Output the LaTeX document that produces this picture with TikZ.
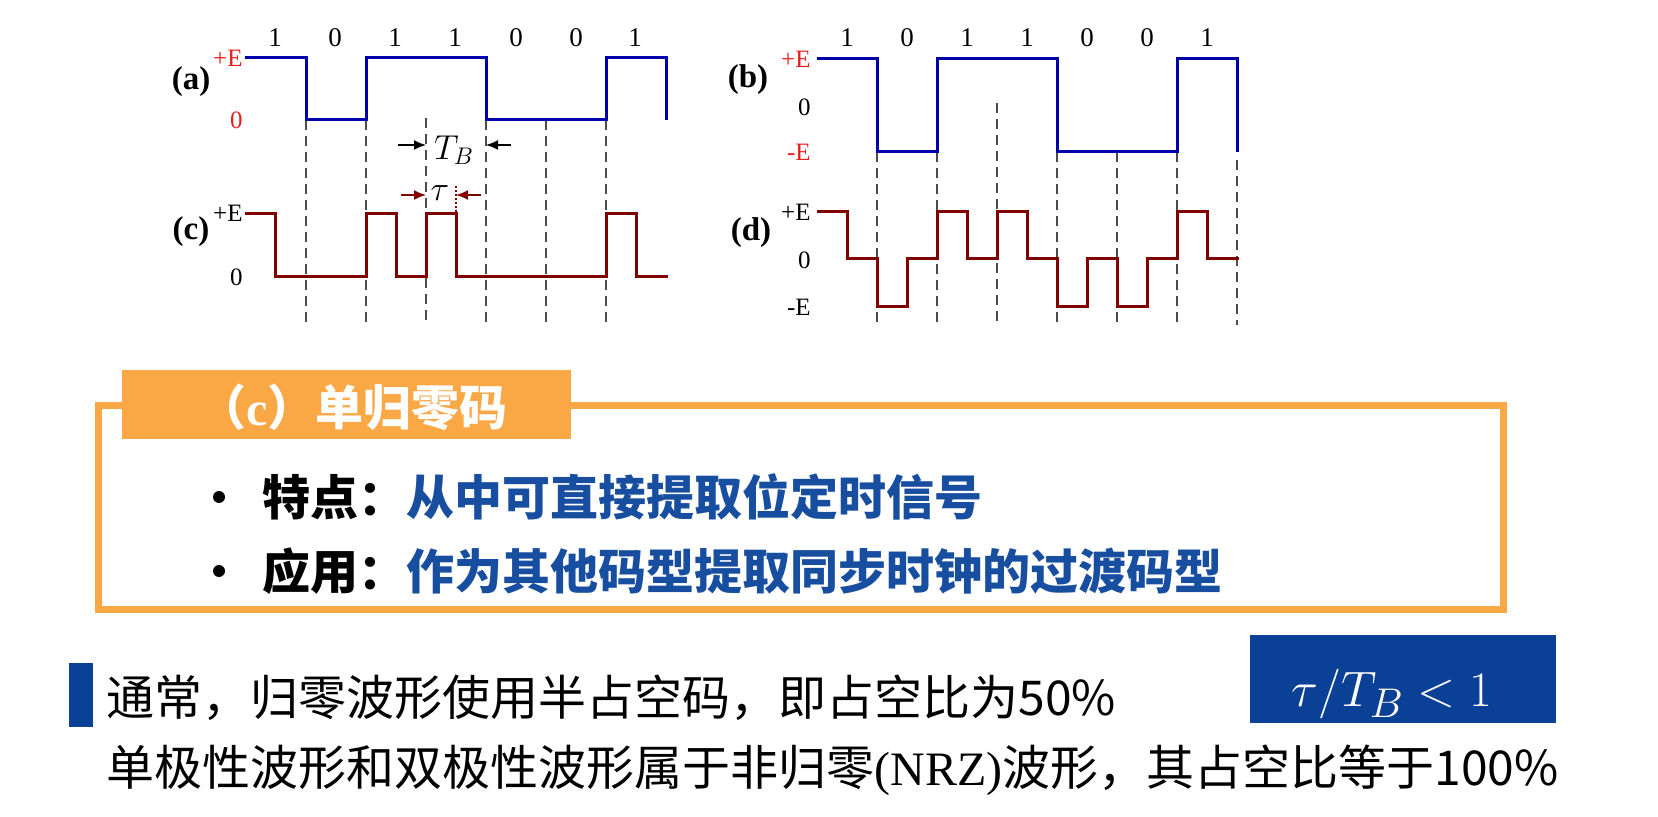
\documentclass[tikz,border=0pt]{standalone}
\usepackage{fontspec}
\setmainfont{Liberation Serif}
\newfontfamily\cjk{Noto Sans CJK SC}
\usepackage{xcolor}
\usetikzlibrary{arrows.meta, positioning}

\definecolor{waveblue}{RGB}{0,0,170}
\definecolor{wavered}{RGB}{128,0,0}
\definecolor{lblred}{RGB}{232,30,30}
\definecolor{taborange}{RGB}{250,168,70}
\definecolor{txtblue}{RGB}{24,78,160}
\definecolor{boxblue}{RGB}{10,64,150}

\begin{document}
\begin{tikzpicture}[
    x=0.5pt, y=-0.5pt,
    >={Latex[length=6pt, width=5pt]},
    wave/.style={line width=1.5pt, line join=miter},
    guide/.style={dash pattern=on 5pt off 3pt, line width=0.7pt, draw=black!70},
    bit/.style={inner sep=0pt, font=\fontsize{13.5}{13.5}\selectfont},
    lvl/.style={inner sep=0pt, anchor=east, font=\fontsize{12.5}{12.5}\selectfont},
    tag/.style={inner sep=0pt, font=\fontsize{16.5}{16.5}\selectfont\bfseries},
    arrow/.style={->, line width=0.8pt},
    dot/.style={circle, fill=black, inner sep=0pt, minimum size=6pt},
    line/.style={inner sep=0pt, anchor=west, font=\cjk\fontsize{24}{24}\selectfont},
    point/.style={inner sep=0pt, anchor=west, font=\cjk\bfseries\fontsize{24}{24}\selectfont}
]
\useasboundingbox (0,0) rectangle (1658,817);

% Bit labels
\node[bit] (a1) at (275,38) {1};
\node[bit] (a2) at (335,38) {0};
\node[bit] (a3) at (395,38) {1};
\node[bit] (a4) at (455,38) {1};
\node[bit] (a5) at (516,38) {0};
\node[bit] (a6) at (576,38) {0};
\node[bit] (a7) at (635,38) {1};
\node[bit] (b1) at (847,38) {1};
\node[bit] (b2) at (907,38) {0};
\node[bit] (b3) at (967,38) {1};
\node[bit] (b4) at (1027,38) {1};
\node[bit] (b5) at (1087,38) {0};
\node[bit] (b6) at (1147,38) {0};
\node[bit] (b7) at (1207,38) {1};

% Level labels
\node[lvl, text=lblred] (aP) at (243,58) {+E};
\node[lvl, text=lblred] (aZ) at (243,120) {0};
\node[lvl] (cP) at (243,213) {+E};
\node[lvl] (cZ) at (243,277) {0};
\node[lvl, text=lblred] (bP) at (811,59) {+E};
\node[lvl] (bZ) at (811,107) {0};
\node[lvl, text=lblred] (bN) at (811,152) {-E};
\node[lvl] (dP) at (811,212) {+E};
\node[lvl] (dZ) at (811,260) {0};
\node[lvl] (dN) at (811,307) {-E};
\node[tag] (ta) at (191,82) {(a)};
\node[tag] (tc) at (191,232) {(c)};
\node[tag] (tb) at (748,80) {(b)};
\node[tag] (td) at (751,233) {(d)};

% Bit boundaries
\draw[guide] (306,120) -- (306,325) (366,120) -- (366,325) (426,118) -- (426,325)
    (486,120) -- (486,325) (546,120) -- (546,325) (606,120) -- (606,325);
\draw[guide] (877,152) -- (877,325) (937,152) -- (937,325) (997,103) -- (997,325)
    (1057,152) -- (1057,325) (1117,152) -- (1117,325) (1177,152) -- (1177,325)
    (1237,160) -- (1237,325);

% Waveforms
\draw[wave, waveblue] (245,58) -- (306,58) -- (306,120) -- (366,120) -- (366,58)
    -- (486,58) -- (486,120) -- (606,120) -- (606,58) -- (666,58) -- (666,120);
\draw[wave, wavered] (245,214) -- (275,214) -- (275,277) -- (366,277) -- (366,214)
    -- (396,214) -- (396,277) -- (426,277) -- (426,214) -- (456,214) -- (456,277)
    -- (606,277) -- (606,214) -- (636,214) -- (636,277) -- (668,277);
\draw[wave, waveblue] (817,59) -- (877,59) -- (877,152) -- (937,152) -- (937,59)
    -- (1057,59) -- (1057,152) -- (1177,152) -- (1177,59) -- (1237,59) -- (1237,152);
\draw[wave, wavered] (817,212) -- (847,212) -- (847,259) -- (877,259) -- (877,307)
    -- (907,307) -- (907,259) -- (937,259) -- (937,212) -- (967,212) -- (967,259)
    -- (997,259) -- (997,212) -- (1027,212) -- (1027,259) -- (1057,259) -- (1057,307)
    -- (1087,307) -- (1087,259) -- (1117,259) -- (1117,307) -- (1147,307) -- (1147,259)
    -- (1177,259) -- (1177,212) -- (1207,212) -- (1207,259) -- (1239,259);

% T_B and tau marks
\node[inner sep=0pt, font=\fontsize{18}{18}\selectfont] (tbl) at (454,150) {$T_B$};
\node[inner sep=0pt, font=\fontsize{18}{18}\selectfont] (taul) at (440,193) {$\tau$};
\coordinate (tbA) at (398,145);
\coordinate (tbB) at (426,145);
\coordinate (tbC) at (511,145);
\coordinate (tbD) at (486,145);
\coordinate (taA) at (401,195);
\coordinate (taB) at (426,195);
\coordinate (taC) at (481,195);
\coordinate (taD) at (456,195);
\coordinate (taE) at (456,186);
\coordinate (taF) at (456,214);
\draw[arrow] (tbA) -- (tbB);
\draw[arrow] (tbC) -- (tbD);
\draw[arrow, wavered] (taA) -- (taB);
\draw[arrow, wavered] (taC) -- (taD);
\draw[wavered, densely dotted, line width=1pt] (taE) -- (taF);

% Frame with tab
\draw[taborange, line width=3.5pt] (98,406) rectangle (1503,609);
\fill[taborange] (122,370) rectangle (571,439);
\node[inner sep=0pt, text=white, font=\cjk\bfseries\fontsize{24}{24}\selectfont] (title) at (353,407) {（{\rmfamily c}）单归零码};
\node[dot] (dot1) at (219,497) {};
\node[dot] (dot2) at (219,571) {};
\node[point] (feat) at (262,497) {特点：\textcolor{txtblue}{从中可直接提取位定时信号}};
\node[point] (use) at (262,571) {应用：\textcolor{txtblue}{作为其他码型提取同步时钟的过渡码型}};

% Notes
\fill[boxblue] (69,663) rectangle (93,727);
\node[line] (note1) at (106,698) {通常，归零波形使用半占空码，即占空比为50\%};
\node[line] (note2) at (106,770) {单极性波形和双极性波形属于非归零{\rmfamily(NRZ)}波形，其占空比等于100\%};
\fill[boxblue] (1250,635) rectangle (1556,723);
\node[inner sep=0pt, anchor=base, text=white, font=\fontsize{29}{29}\selectfont] (ratio) at (1392,706) {$\tau/T_B<1$};

\end{tikzpicture}
\end{document}
